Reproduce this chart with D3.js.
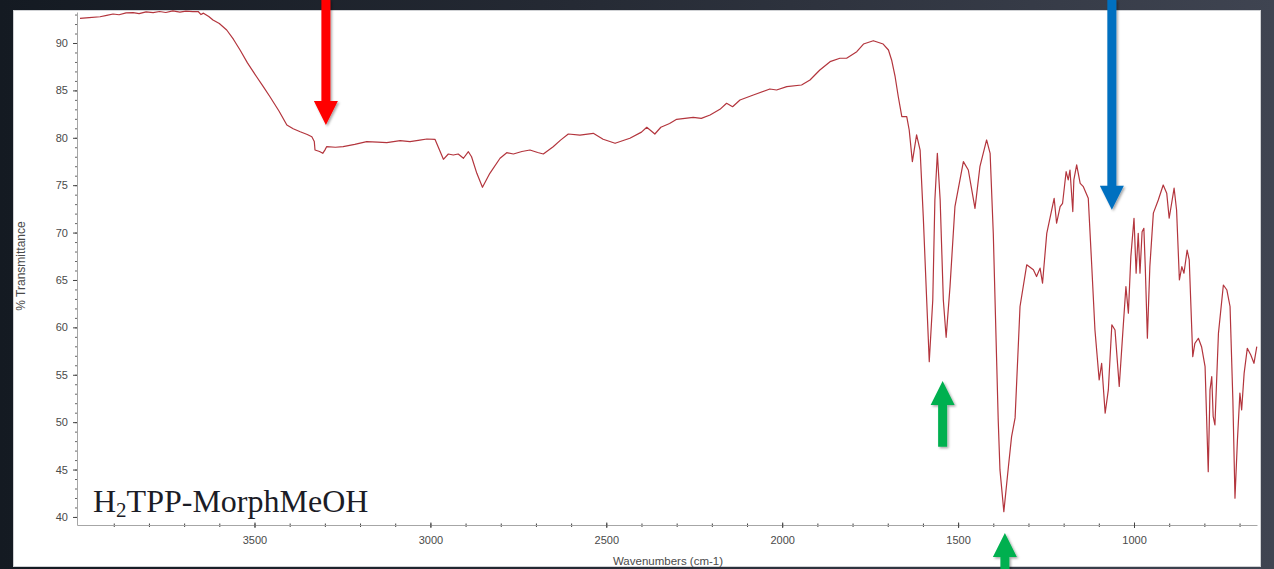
<!DOCTYPE html>
<html>
<head>
<meta charset="utf-8">
<script src="https://cdn.jsdelivr.net/npm/d3@7"></script>
<style>
  html, body {
    margin: 0;
    padding: 0;
    width: 1274px;
    height: 569px;
    overflow: hidden;
    background: linear-gradient(90deg, #141a22 0%, #252a34 45%, #3f4451 100%);
  }
  svg { display: block; }
</style>
</head>
<body>
<svg id="chart" width="1274" height="569"></svg>
<script>
// FTIR spectrum of H2TPP-MorphMeOH: wavenumber (cm-1) and % transmittance
const wavenumbers = [
  3996, 3970, 3939, 3920, 3902, 3885, 3865, 3845, 3828, 3808, 3788, 3770, 3752, 3732, 3712, 3695,
  3675, 3660, 3652, 3645, 3630, 3618, 3600, 3579, 3560, 3541, 3520, 3494, 3475, 3456, 3430, 3408,
  3390, 3370, 3350, 3337, 3330, 3328, 3315, 3306, 3300, 3295, 3270, 3248, 3215, 3181, 3150, 3124,
  3105, 3086, 3058, 3030, 3010, 2987, 2978, 2963, 2949, 2935, 2921, 2906, 2892, 2883, 2868, 2852,
  2831, 2802, 2783, 2764, 2740, 2717, 2695, 2679, 2651, 2630, 2608, 2575, 2537, 2509, 2475, 2433,
  2400, 2385, 2362, 2345, 2320, 2300, 2253, 2230, 2205, 2177, 2158, 2141, 2120, 2082, 2035, 2016,
  1987, 1945, 1921, 1893, 1864, 1836, 1817, 1788, 1769, 1741, 1713, 1698, 1689, 1679, 1670, 1660,
  1646, 1639, 1630, 1618, 1608, 1599, 1590, 1582, 1572, 1566, 1559, 1551, 1542, 1534, 1523, 1509,
  1485, 1471, 1452, 1438, 1419, 1409, 1400, 1390, 1386, 1381, 1370, 1357, 1348, 1338, 1324, 1305,
  1286, 1277, 1267, 1260, 1248, 1227, 1220, 1210, 1203, 1193, 1187, 1182, 1174, 1171, 1163, 1153,
  1144, 1130, 1120, 1111, 1099, 1092, 1082, 1073, 1063, 1054, 1042, 1032, 1023, 1016, 1009, 1000,
  994, 988, 983, 977, 972, 968, 962, 955, 945, 931, 917, 907, 900, 886, 879, 871,
  864, 858, 849, 843, 833, 827, 817, 808, 798, 789, 784, 779, 775, 770, 760, 746,
  736, 727, 719, 713, 706, 699, 694, 687, 678, 668, 659, 651
];
const transmittance = [
  92.60, 92.68, 92.77, 92.92, 93.06, 92.98, 93.18, 93.20, 93.10, 93.28, 93.20, 93.32, 93.22, 93.38, 93.26, 93.36,
  93.30, 93.32, 93.00, 93.15, 92.80, 92.43, 92.05, 91.37, 90.40, 89.26, 87.90, 86.44, 85.40, 84.33, 82.80, 81.35,
  80.95, 80.64, 80.35, 80.11, 79.60, 78.71, 78.55, 78.36, 78.70, 79.06, 79.00, 79.06, 79.30, 79.59, 79.55, 79.48,
  79.60, 79.70, 79.59, 79.75, 79.87, 79.84, 79.06, 77.73, 78.29, 78.18, 78.29, 77.84, 78.53, 78.00, 76.25, 74.78,
  76.25, 77.84, 78.43, 78.29, 78.55, 78.71, 78.45, 78.29, 79.06, 79.75, 80.40, 80.29, 80.47, 79.84, 79.42, 79.95,
  80.60, 81.11, 80.40, 81.11, 81.50, 81.95, 82.16, 82.05, 82.40, 83.00, 83.64, 83.28, 83.99, 84.51, 85.15, 85.04,
  85.39, 85.57, 86.10, 87.15, 88.03, 88.39, 88.39, 89.08, 89.89, 90.24, 89.89, 89.26, 88.21, 86.44, 84.33, 82.23,
  82.23, 80.82, 77.48, 80.30, 78.71, 71.68, 63.50, 56.38, 62.89, 73.44, 78.36, 73.44, 62.89, 58.95, 64.30, 72.73,
  77.48, 76.60, 72.56, 76.95, 79.77, 78.36, 69.92, 55.85, 50.23, 44.96, 40.56, 45.30, 48.47, 50.45, 62.20, 66.60,
  66.07, 65.36, 66.25, 64.67, 69.92, 73.62, 70.99, 72.73, 73.09, 76.42, 75.55, 76.60, 72.22, 75.55, 77.14, 75.20,
  74.84, 73.62, 66.40, 59.72, 54.45, 56.21, 50.94, 53.40, 60.27, 59.72, 53.77, 59.37, 64.30, 61.50, 67.46, 71.51,
  65.71, 69.92, 65.71, 70.09, 70.45, 66.40, 58.85, 66.40, 72.05, 73.44, 75.02, 74.16, 71.51, 74.68, 72.38, 65.00,
  66.40, 65.71, 68.16, 67.11, 56.91, 58.32, 58.85, 57.96, 55.85, 44.78, 53.40, 54.80, 50.60, 49.70, 59.37, 64.47,
  63.94, 62.20, 52.34, 41.97, 48.12, 53.07, 51.30, 55.15, 57.79, 57.09, 56.21, 57.96
];

// axis ticks
const xTickValues = [3500, 3000, 2500, 2000, 1500, 1000];
const xMinorTickValues = d3.range(3900, 650, -100);
const yTickValues = [40, 45, 50, 55, 60, 65, 70, 75, 80, 85, 90];
const yMinorTickValues = d3.range(40, 94, 1);
const xAxisTitle = "Wavenumbers (cm-1)";
const yAxisTitle = "% Transmittance";

// sample name: main part, subscript, remainder
const sampleNameParts = ["H", "2", "TPP-MorphMeOH"];

// band markers: position (cm-1), tip and tail (% T), colour
const arrowWavenumbers = [3297, 1063, 1544, 1367];
const arrowTips = [81.35, 72.4, 54.35, 38.3];
const arrowTails = [94.6, 94.6, 47.4, 34.0];
const arrowColors = ["#ff0000", "#0070c0", "#00b050", "#00b050"];

const svg = d3.select("#chart");

// white sheet behind the plot
svg.append("rect")
  .attr("x", 13.5).attr("y", 10.5)
  .attr("width", 1247).attr("height", 556)
  .attr("fill", "#ffffff")
  .attr("stroke", "#cfd1d4")
  .attr("stroke-width", 1);

const plot = { left: 77, right: 1257, top: 12, bottom: 525 };

const x = d3.scaleLinear().domain([4004.5, 650.4]).range([plot.left, plot.right]);
const y = d3.scaleLinear().domain([39.15, 93.27]).range([plot.bottom, plot.top]);

const tickFont = "'Liberation Sans', Arial, Helvetica, sans-serif";
const plain = d3.format("d");

// minor ticks
svg.append("g")
  .attr("transform", `translate(0,${plot.bottom})`)
  .call(d3.axisBottom(x).tickValues(xMinorTickValues).tickSize(2).tickFormat(""))
  .call(g => g.select(".domain").remove())
  .call(g => g.selectAll(".tick line").attr("y1", -1.5).attr("stroke", "#444"));

svg.append("g")
  .attr("transform", `translate(${plot.left},0)`)
  .call(d3.axisLeft(y).tickValues(yMinorTickValues).tickSize(2).tickFormat(""))
  .call(g => g.select(".domain").remove())
  .call(g => g.selectAll(".tick line").attr("stroke", "#666"));

// major x axis
svg.append("g")
  .attr("transform", `translate(0,${plot.bottom})`)
  .call(d3.axisBottom(x).tickValues(xTickValues).tickFormat(plain)
    .tickSize(3).tickPadding(8).tickSizeOuter(0))
  .call(g => g.select(".domain").attr("stroke", "#a6a6a6"))
  .call(g => g.selectAll(".tick line").attr("y1", -2.5).attr("stroke", "#444"))
  .call(g => g.selectAll(".tick text")
    .attr("font-family", tickFont).attr("font-size", 11).attr("fill", "#4a4a4a"));

// major y axis
svg.append("g")
  .attr("transform", `translate(${plot.left},0)`)
  .call(d3.axisLeft(y).tickValues(yTickValues).tickFormat(plain)
    .tickSize(4).tickPadding(5).tickSizeOuter(0))
  .call(g => g.select(".domain").attr("stroke", "#a6a6a6"))
  .call(g => g.selectAll(".tick line").attr("stroke", "#444"))
  .call(g => g.selectAll(".tick text")
    .attr("font-family", tickFont).attr("font-size", 11).attr("fill", "#4a4a4a"));

// axis titles
svg.append("text")
  .attr("x", 668).attr("y", 565)
  .attr("text-anchor", "middle")
  .attr("font-family", tickFont).attr("font-size", 11.5).attr("fill", "#4a4a4a")
  .text(xAxisTitle);

svg.append("text")
  .attr("transform", "translate(25,266) rotate(-90)")
  .attr("text-anchor", "middle")
  .attr("font-family", tickFont).attr("font-size", 12).attr("fill", "#4a4a4a")
  .text(yAxisTitle);

// spectrum trace
const points = wavenumbers.map((w, i) => [w, transmittance[i]]);
svg.append("path")
  .datum(points)
  .attr("fill", "none")
  .attr("stroke", "#b3353d")
  .attr("stroke-width", 1.2)
  .attr("stroke-linejoin", "round")
  .attr("d", d3.line().x(d => x(d[0])).y(d => y(d[1])));

// sample name
const nameText = svg.append("text")
  .attr("x", 93).attr("y", 512)
  .attr("font-family", "'Liberation Serif', 'Times New Roman', Times, serif")
  .attr("font-size", 32)
  .attr("fill", "#1b1c26");
nameText.append("tspan").text(sampleNameParts[0]);
nameText.append("tspan").attr("font-size", 21).attr("dy", 5).text(sampleNameParts[1]);
nameText.append("tspan").attr("dy", -5).text(sampleNameParts[2]);

// band marker arrows
const defs = svg.append("defs");
const shadow = defs.append("filter").attr("id", "arrowShadow")
  .attr("x", "-50%").attr("y", "-20%").attr("width", "200%").attr("height", "140%");
shadow.append("feDropShadow")
  .attr("dx", 1.5).attr("dy", 1.5).attr("stdDeviation", 1.2)
  .attr("flood-color", "#000").attr("flood-opacity", 0.35);

const shaftHalf = 4.5, headHalf = 12, headLen = 24;
function arrowPath(cx, tipY, tailY) {
  const dir = tipY > tailY ? 1 : -1;       // 1 = pointing down
  const baseY = tipY - dir * headLen;
  return [
    `M${cx - shaftHalf},${tailY}`,
    `L${cx + shaftHalf},${tailY}`,
    `L${cx + shaftHalf},${baseY}`,
    `L${cx + headHalf},${baseY}`,
    `L${cx},${tipY}`,
    `L${cx - headHalf},${baseY}`,
    `L${cx - shaftHalf},${baseY}`,
    "Z"
  ].join("");
}

svg.append("g")
  .selectAll("path")
  .data(arrowWavenumbers)
  .join("path")
  .attr("d", (w, i) => arrowPath(x(w), y(arrowTips[i]), y(arrowTails[i])))
  .attr("fill", (w, i) => arrowColors[i])
  .attr("filter", "url(#arrowShadow)");
</script>
</body>
</html>
